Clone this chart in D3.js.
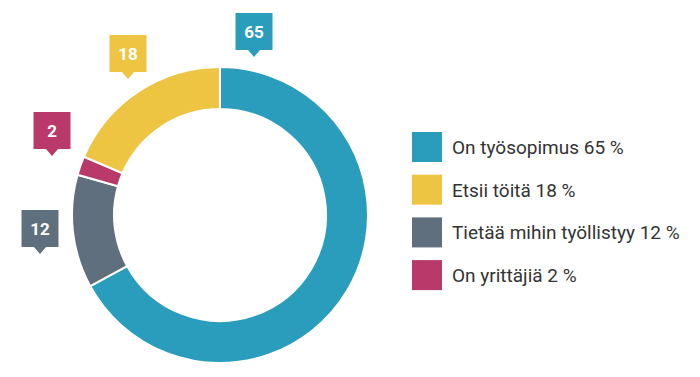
<!DOCTYPE html>
<html>
<head>
<meta charset="utf-8">
<script src="https://cdn.jsdelivr.net/npm/d3@7"></script>
<style>
  body { margin: 0; background: #fff; }
  svg text { font-family: "Roboto", "Liberation Sans", sans-serif; }
</style>
</head>
<body>
<div id="chart"></div>
<script>
// data
const categories = ["On työsopimus", "Etsii töitä", "Tietää mihin työllistyy", "On yrittäjiä"];
const values = [65, 18, 12, 2];
const colors = ["#2a9dbd", "#eec443", "#5f6f7e", "#b93a6a"];

// order of the ring, clockwise from 12 o'clock (index into the arrays above)
const ringSeq = [0, 2, 3, 1];

const width = 700, height = 377;
const cx = 220, cy = 215;
const outerR = 148, innerR = 106;

const svg = d3.select("#chart").append("svg")
    .attr("width", width)
    .attr("height", height);

const g = svg.append("g").attr("transform", `translate(${cx},${cy})`);

const pie = d3.pie().sort(null).value(i => values[i]);
const arc = d3.arc().innerRadius(innerR).outerRadius(outerR);

g.selectAll("path.slice")
    .data(pie(ringSeq))
    .join("path")
    .attr("class", "slice")
    .attr("d", arc)
    .attr("fill", d => colors[d.data])
    .attr("stroke", "#fff")
    .attr("stroke-width", 2);

// callout tips, relative to the centre (hand placed like the original)
const tips = [[34, -158], [-92, -136], [-180, 39], [-168, -59]];
const boxW = 37, boxH = 37, ptrH = 7, ptrW = 12;

const callouts = g.selectAll("g.callout")
    .data(values.map((v, i) => ({v, i})))
    .join("g")
    .attr("class", "callout")
    .attr("transform", d => `translate(${tips[d.i][0]},${tips[d.i][1]})`);

callouts.append("path")
    .attr("d", () => {
        const top = -ptrH - boxH, l = -boxW / 2, r = boxW / 2;
        return `M${l},${top}H${r}V${-ptrH}H${ptrW / 2}L0,0L${-ptrW / 2},${-ptrH}H${l}Z`;
    })
    .attr("fill", d => colors[d.i]);

callouts.append("text")
    .attr("x", 0)
    .attr("y", -ptrH - boxH / 2)
    .attr("dy", "0.36em")
    .attr("text-anchor", "middle")
    .attr("fill", "#fff")
    .attr("font-weight", "bold")
    .attr("font-size", 17)
    .text(d => d.v);

// legend
const legY = d3.scaleBand()
    .domain(d3.range(categories.length))
    .range([132, 132 + 42.7 * 4]);

const leg = svg.selectAll("g.leg")
    .data(categories)
    .join("g")
    .attr("class", "leg")
    .attr("transform", (d, i) => `translate(412,${legY(i)})`);

leg.append("rect")
    .attr("width", 30)
    .attr("height", 30)
    .attr("fill", (d, i) => colors[i]);

leg.append("text")
    .attr("x", 40)
    .attr("y", 15)
    .attr("dy", "0.36em")
    .attr("font-size", 19)
    .attr("fill", "#333")
    .text((d, i) => `${d} ${values[i]} %`);
</script>
</body>
</html>
